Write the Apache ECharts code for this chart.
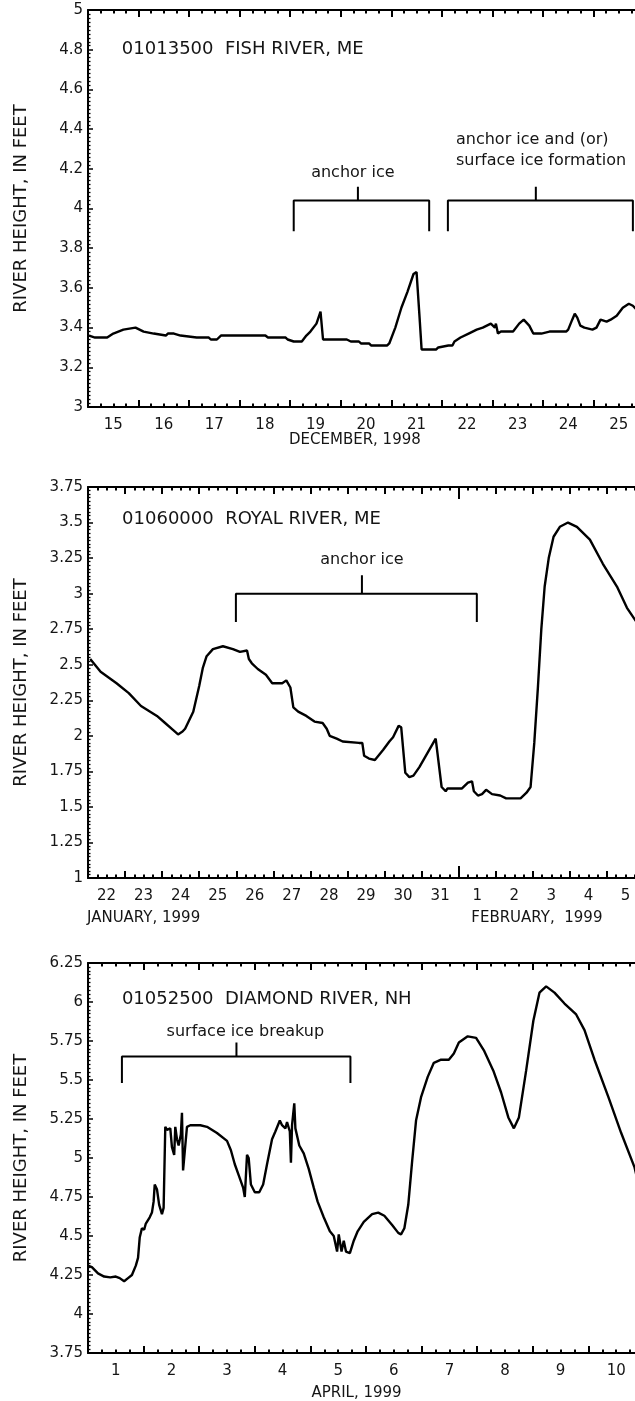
<!DOCTYPE html>
<html>
<head>
<meta charset="utf-8">
<script src="https://cdn.jsdelivr.net/npm/echarts@6/dist/echarts.min.js"></script>
<style>
html, body { margin: 0; padding: 0; background: #fff; overflow: hidden; }
#chart { width: 660px; height: 1401px; }
</style>
</head>
<body>
<div id="chart"></div>
<script>
// Fish River, December 1998 (x = day of month, fractional)
var fishDays = [15.02, 15.14, 15.38, 15.5, 15.7, 15.94, 16.1, 16.3, 16.54, 16.58, 16.7, 16.83, 17.15, 17.39, 17.43, 17.55, 17.63, 18.51, 18.56, 18.91, 18.95, 19.07, 19.23, 19.32, 19.4, 19.52, 19.6, 19.65, 20.12, 20.2, 20.36, 20.4, 20.56, 20.6, 20.92, 20.96, 21.08, 21.2, 21.32, 21.44, 21.5, 21.56, 21.6, 21.89, 21.93, 22.13, 22.21, 22.25, 22.37, 22.53, 22.69, 22.81, 22.89, 22.97, 23.01, 23.05, 23.07, 23.11, 23.17, 23.41, 23.53, 23.62, 23.73, 23.81, 23.97, 24.13, 24.46, 24.5, 24.58, 24.63, 24.68, 24.74, 24.82, 24.98, 25.06, 25.14, 25.26, 25.34, 25.46, 25.58, 25.7, 25.78, 25.89];
var fishHeights = [3.36, 3.35, 3.35, 3.37, 3.39, 3.40, 3.38, 3.37, 3.36, 3.37, 3.37, 3.36, 3.35, 3.35, 3.34, 3.34, 3.36, 3.36, 3.35, 3.35, 3.34, 3.33, 3.33, 3.36, 3.38, 3.42, 3.48, 3.34, 3.34, 3.33, 3.33, 3.32, 3.32, 3.31, 3.31, 3.32, 3.40, 3.50, 3.58, 3.67, 3.68, 3.45, 3.29, 3.29, 3.30, 3.31, 3.31, 3.33, 3.35, 3.37, 3.39, 3.40, 3.41, 3.42, 3.41, 3.40, 3.42, 3.37, 3.38, 3.38, 3.42, 3.44, 3.41, 3.37, 3.37, 3.38, 3.38, 3.39, 3.44, 3.47, 3.45, 3.41, 3.40, 3.39, 3.40, 3.44, 3.43, 3.44, 3.46, 3.50, 3.52, 3.51, 3.48];

// Royal River, January-February 1999 (x = day counted from Jan 0, Feb 1 = 32)
var royalDays = [22.06, 22.34, 22.77, 23.1, 23.43, 23.86, 24.08, 24.3, 24.43, 24.55, 24.62, 24.84, 25.0, 25.1, 25.2, 25.37, 25.64, 25.91, 26.1, 26.29, 26.34, 26.42, 26.58, 26.8, 26.97, 27.24, 27.35, 27.46, 27.54, 27.67, 27.89, 28.11, 28.33, 28.44, 28.52, 28.71, 28.87, 29.31, 29.4, 29.45, 29.58, 29.74, 29.96, 30.13, 30.23, 30.38, 30.45, 30.56, 30.67, 30.78, 30.94, 31.16, 31.38, 31.43, 31.54, 31.65, 31.7, 32.09, 32.14, 32.25, 32.36, 32.41, 32.52, 32.63, 32.74, 32.9, 33.12, 33.28, 33.67, 33.83, 33.94, 34.04, 34.14, 34.23, 34.32, 34.43, 34.56, 34.73, 34.95, 35.19, 35.54, 35.89, 36.27, 36.54, 36.8];
var royalHeights = [2.54, 2.45, 2.37, 2.30, 2.21, 2.14, 2.09, 2.04, 2.01, 2.03, 2.05, 2.17, 2.35, 2.48, 2.56, 2.61, 2.63, 2.61, 2.59, 2.60, 2.54, 2.51, 2.47, 2.43, 2.37, 2.37, 2.39, 2.34, 2.20, 2.17, 2.14, 2.10, 2.09, 2.05, 2.00, 1.98, 1.96, 1.95, 1.95, 1.86, 1.84, 1.83, 1.90, 1.96, 1.99, 2.07, 2.06, 1.74, 1.71, 1.72, 1.78, 1.88, 1.98, 1.98, 1.64, 1.61, 1.63, 1.63, 1.64, 1.67, 1.68, 1.61, 1.58, 1.59, 1.62, 1.59, 1.58, 1.56, 1.56, 1.60, 1.64, 1.95, 2.35, 2.75, 3.05, 3.25, 3.40, 3.47, 3.50, 3.47, 3.38, 3.21, 3.05, 2.90, 2.80];

// Diamond River, April 1999
var diamondDays = [1.0, 1.07, 1.18, 1.29, 1.4, 1.5, 1.57, 1.65, 1.67, 1.72, 1.79, 1.86, 1.9, 1.93, 1.97, 2.01, 2.04, 2.11, 2.15, 2.18, 2.2, 2.24, 2.28, 2.33, 2.36, 2.39, 2.42, 2.48, 2.51, 2.55, 2.57, 2.6, 2.63, 2.67, 2.69, 2.71, 2.74, 2.78, 2.84, 3.02, 3.14, 3.32, 3.5, 3.57, 3.64, 3.71, 3.79, 3.82, 3.84, 3.86, 3.89, 3.93, 4.0, 4.08, 4.15, 4.22, 4.31, 4.37, 4.45, 4.49, 4.55, 4.58, 4.63, 4.65, 4.67, 4.71, 4.73, 4.8, 4.88, 4.97, 5.06, 5.13, 5.24, 5.35, 5.42, 5.48, 5.51, 5.56, 5.6, 5.64, 5.71, 5.78, 5.85, 5.96, 6.11, 6.22, 6.33, 6.47, 6.58, 6.63, 6.69, 6.76, 6.83, 6.9, 6.99, 7.11, 7.22, 7.35, 7.49, 7.58, 7.67, 7.83, 7.98, 8.12, 8.29, 8.43, 8.56, 8.66, 8.75, 8.88, 9.01, 9.12, 9.24, 9.39, 9.57, 9.78, 9.93, 10.11, 10.36, 10.59, 10.83, 10.95];
var diamondHeights = [4.31, 4.30, 4.26, 4.24, 4.235, 4.24, 4.23, 4.21, 4.20, 4.23, 4.25, 4.31, 4.36, 4.49, 4.55, 4.54, 4.58, 4.62, 4.65, 4.72, 4.83, 4.80, 4.70, 4.64, 4.68, 5.20, 5.18, 5.19, 5.07, 5.02, 5.20, 5.12, 5.08, 5.15, 5.29, 4.92, 5.04, 5.20, 5.21, 5.21, 5.20, 5.16, 5.11, 5.05, 4.96, 4.89, 4.81, 4.75, 4.76, 5.02, 5.00, 4.83, 4.78, 4.78, 4.83, 4.96, 5.12, 5.17, 5.24, 5.21, 5.19, 5.23, 5.17, 4.97, 5.21, 5.35, 5.19, 5.08, 5.03, 4.93, 4.81, 4.72, 4.62, 4.53, 4.50, 4.40, 4.51, 4.40, 4.47, 4.40, 4.39, 4.47, 4.53, 4.59, 4.64, 4.65, 4.63, 4.57, 4.52, 4.51, 4.55, 4.70, 4.98, 5.24, 5.39, 5.52, 5.61, 5.63, 5.63, 5.67, 5.74, 5.78, 5.77, 5.69, 5.56, 5.42, 5.26, 5.19, 5.26, 5.56, 5.88, 6.06, 6.10, 6.06, 5.99, 5.92, 5.82, 5.63, 5.39, 5.16, 4.94, 4.76];

// tick labels (written at noon of each day)
var decLabels = [15, 16, 17, 18, 19, 20, 21, 22, 23, 24, 25];
var janFebLabels = [22, 23, 24, 25, 26, 27, 28, 29, 30, 31, 1, 2, 3, 4, 5];
var aprLabels = [1, 2, 3, 4, 5, 6, 7, 8, 9, 10];

// brackets: [left x, right x, tick x, bar y, foot y, tick top y]
var fishBrackets = [[19.07, 21.75, 20.34, 4.04, 3.886, 4.11], [22.12, 25.78, 23.86, 4.04, 3.886, 4.11]];
var royalBrackets = [[25.99, 32.49, 29.39, 3.0, 2.8, 3.13]];
var diamondBrackets = [[1.61, 5.72, 3.67, 5.65, 5.48, 5.74]];

var FONT = 'DejaVu Sans';
var INK = '#151515';

function pairs(xs, ys) {
    return xs.map(function (x, i) { return [x, ys[i]]; });
}

function dayAxis(grid, min, max, pos, labels) {
    var a = {
        gridIndex: grid, type: 'value', position: pos, min: min, max: max, interval: 1,
        axisLine: {show: true, onZero: false, lineStyle: {color: '#000', width: 2}},
        axisTick: {show: true, inside: true, length: 7, lineStyle: {color: '#000', width: 2}},
        minorTick: {show: true, splitNumber: 4, length: 3.5, lineStyle: {color: '#000', width: 2}},
        splitLine: {show: false},
        minorSplitLine: {show: false},
        axisLabel: {show: false}
    };
    if (labels) {
        a.axisLabel = {
            show: true,
            customValues: labels.map(function (l, i) { return min + i + 0.5; }),
            formatter: function (v) { return String(labels[Math.round(v - min - 0.5)]); },
            color: INK, fontFamily: FONT, fontSize: 15, margin: 11
        };
    }
    return a;
}

function longTickAxis(grid, min, max, pos, at) {
    return {
        gridIndex: grid, type: 'value', position: pos, min: min, max: max,
        axisLine: {show: false},
        axisTick: {show: true, inside: true, length: 12, customValues: at, lineStyle: {color: '#000', width: 2}},
        axisLabel: {show: false},
        splitLine: {show: false}
    };
}

function heightAxis(grid, min, max, step) {
    return {
        gridIndex: grid, type: 'value', min: min, max: max, interval: step,
        axisLine: {show: true, onZero: false, lineStyle: {color: '#000', width: 2}},
        axisTick: {show: true, inside: true, length: 5, lineStyle: {color: '#000', width: 1.5}},
        minorTick: {show: true, splitNumber: 10, length: 2.5, lineStyle: {color: '#000', width: 1.3}},
        axisLabel: {color: INK, fontFamily: FONT, fontSize: 15, margin: 5},
        splitLine: {show: false},
        name: 'RIVER HEIGHT, IN FEET',
        nameLocation: 'middle',
        nameGap: 58,
        nameTextStyle: {color: INK, fontFamily: FONT, fontSize: 18}
    };
}

function bracketPath(b) {
    return [[b[0], b[4]], [b[0], b[3]], [b[2], b[3]], [b[2], b[5]], [b[2], b[3]], [b[1], b[3]], [b[1], b[4]]];
}

function riverLine(xi, yi, data) {
    return {
        type: 'line', xAxisIndex: xi, yAxisIndex: yi, data: data,
        showSymbol: false, symbol: 'none', clip: true,
        lineStyle: {color: '#000', width: 2.4}
    };
}

var series = [
    riverLine(0, 0, pairs(fishDays, fishHeights)),
    riverLine(2, 1, pairs(royalDays, royalHeights)),
    riverLine(6, 2, pairs(diamondDays, diamondHeights))
];
[[fishBrackets, 0, 0], [royalBrackets, 2, 1], [diamondBrackets, 6, 2]].forEach(function (set) {
    set[0].forEach(function (b) {
        series.push({
            type: 'line', xAxisIndex: set[1], yAxisIndex: set[2], data: bracketPath(b),
            showSymbol: false, symbol: 'none', silent: true,
            lineStyle: {color: '#000', width: 2}
        });
    });
});

var myChart = echarts.init(document.getElementById('chart'), null, {renderer: 'canvas'});
myChart.setOption({
    animation: false,
    backgroundColor: '#fff',
    grid: [
        {left: 88, width: 556, top: 10, height: 397},
        {left: 88, width: 556, top: 487, height: 391},
        {left: 88, width: 556, top: 963, height: 390}
    ],
    xAxis: [
        dayAxis(0, 15, 26, 'bottom', decLabels),
        dayAxis(0, 15, 26, 'top'),
        dayAxis(1, 22, 37, 'bottom', janFebLabels),
        dayAxis(1, 22, 37, 'top'),
        longTickAxis(1, 22, 37, 'bottom', [32]),
        longTickAxis(1, 22, 37, 'top', [32]),
        dayAxis(2, 1, 11, 'bottom', aprLabels),
        dayAxis(2, 1, 11, 'top')
    ],
    yAxis: [
        heightAxis(0, 3, 5, 0.2),
        heightAxis(1, 1, 3.75, 0.25),
        heightAxis(2, 3.75, 6.25, 0.25)
    ],
    series: series
});

// text notes placed in data coordinates: [xAxis, yAxis, x, y, text, align, size]
var notes = [
    [0, 0, 15.67, 4.80, '01013500  FISH RIVER, ME', 'left', 18],
    [0, 0, 20.24, 4.18, 'anchor ice', 'center', 16],
    [0, 0, 22.28, 4.345, 'anchor ice and (or)', 'left', 16],
    [0, 0, 22.28, 4.24, 'surface ice formation', 'left', 16],
    [0, 0, 20.28, 2.834, 'DECEMBER, 1998', 'center', 15],
    [2, 1, 22.92, 3.52, '01060000  ROYAL RIVER, ME', 'left', 18],
    [2, 1, 29.39, 3.235, 'anchor ice', 'center', 16],
    [2, 1, 23.5, 0.72, 'JANUARY, 1999', 'center', 15],
    [2, 1, 34.11, 0.72, 'FEBRUARY,  1999', 'center', 15],
    [6, 2, 1.61, 6.02, '01052500  DIAMOND RIVER, NH', 'left', 18],
    [6, 2, 3.83, 5.81, 'surface ice breakup', 'center', 16],
    [6, 2, 5.83, 3.49, 'APRIL, 1999', 'center', 15]
];
myChart.setOption({
    graphic: notes.map(function (n) {
        var p = myChart.convertToPixel({xAxisIndex: n[0], yAxisIndex: n[1]}, [n[2], n[3]]);
        return {
            type: 'text', x: p[0], y: p[1], silent: true,
            style: {text: n[4], fill: INK, font: n[6] + 'px "' + FONT + '"', align: n[5], verticalAlign: 'middle'}
        };
    })
});
</script>
</body>
</html>
